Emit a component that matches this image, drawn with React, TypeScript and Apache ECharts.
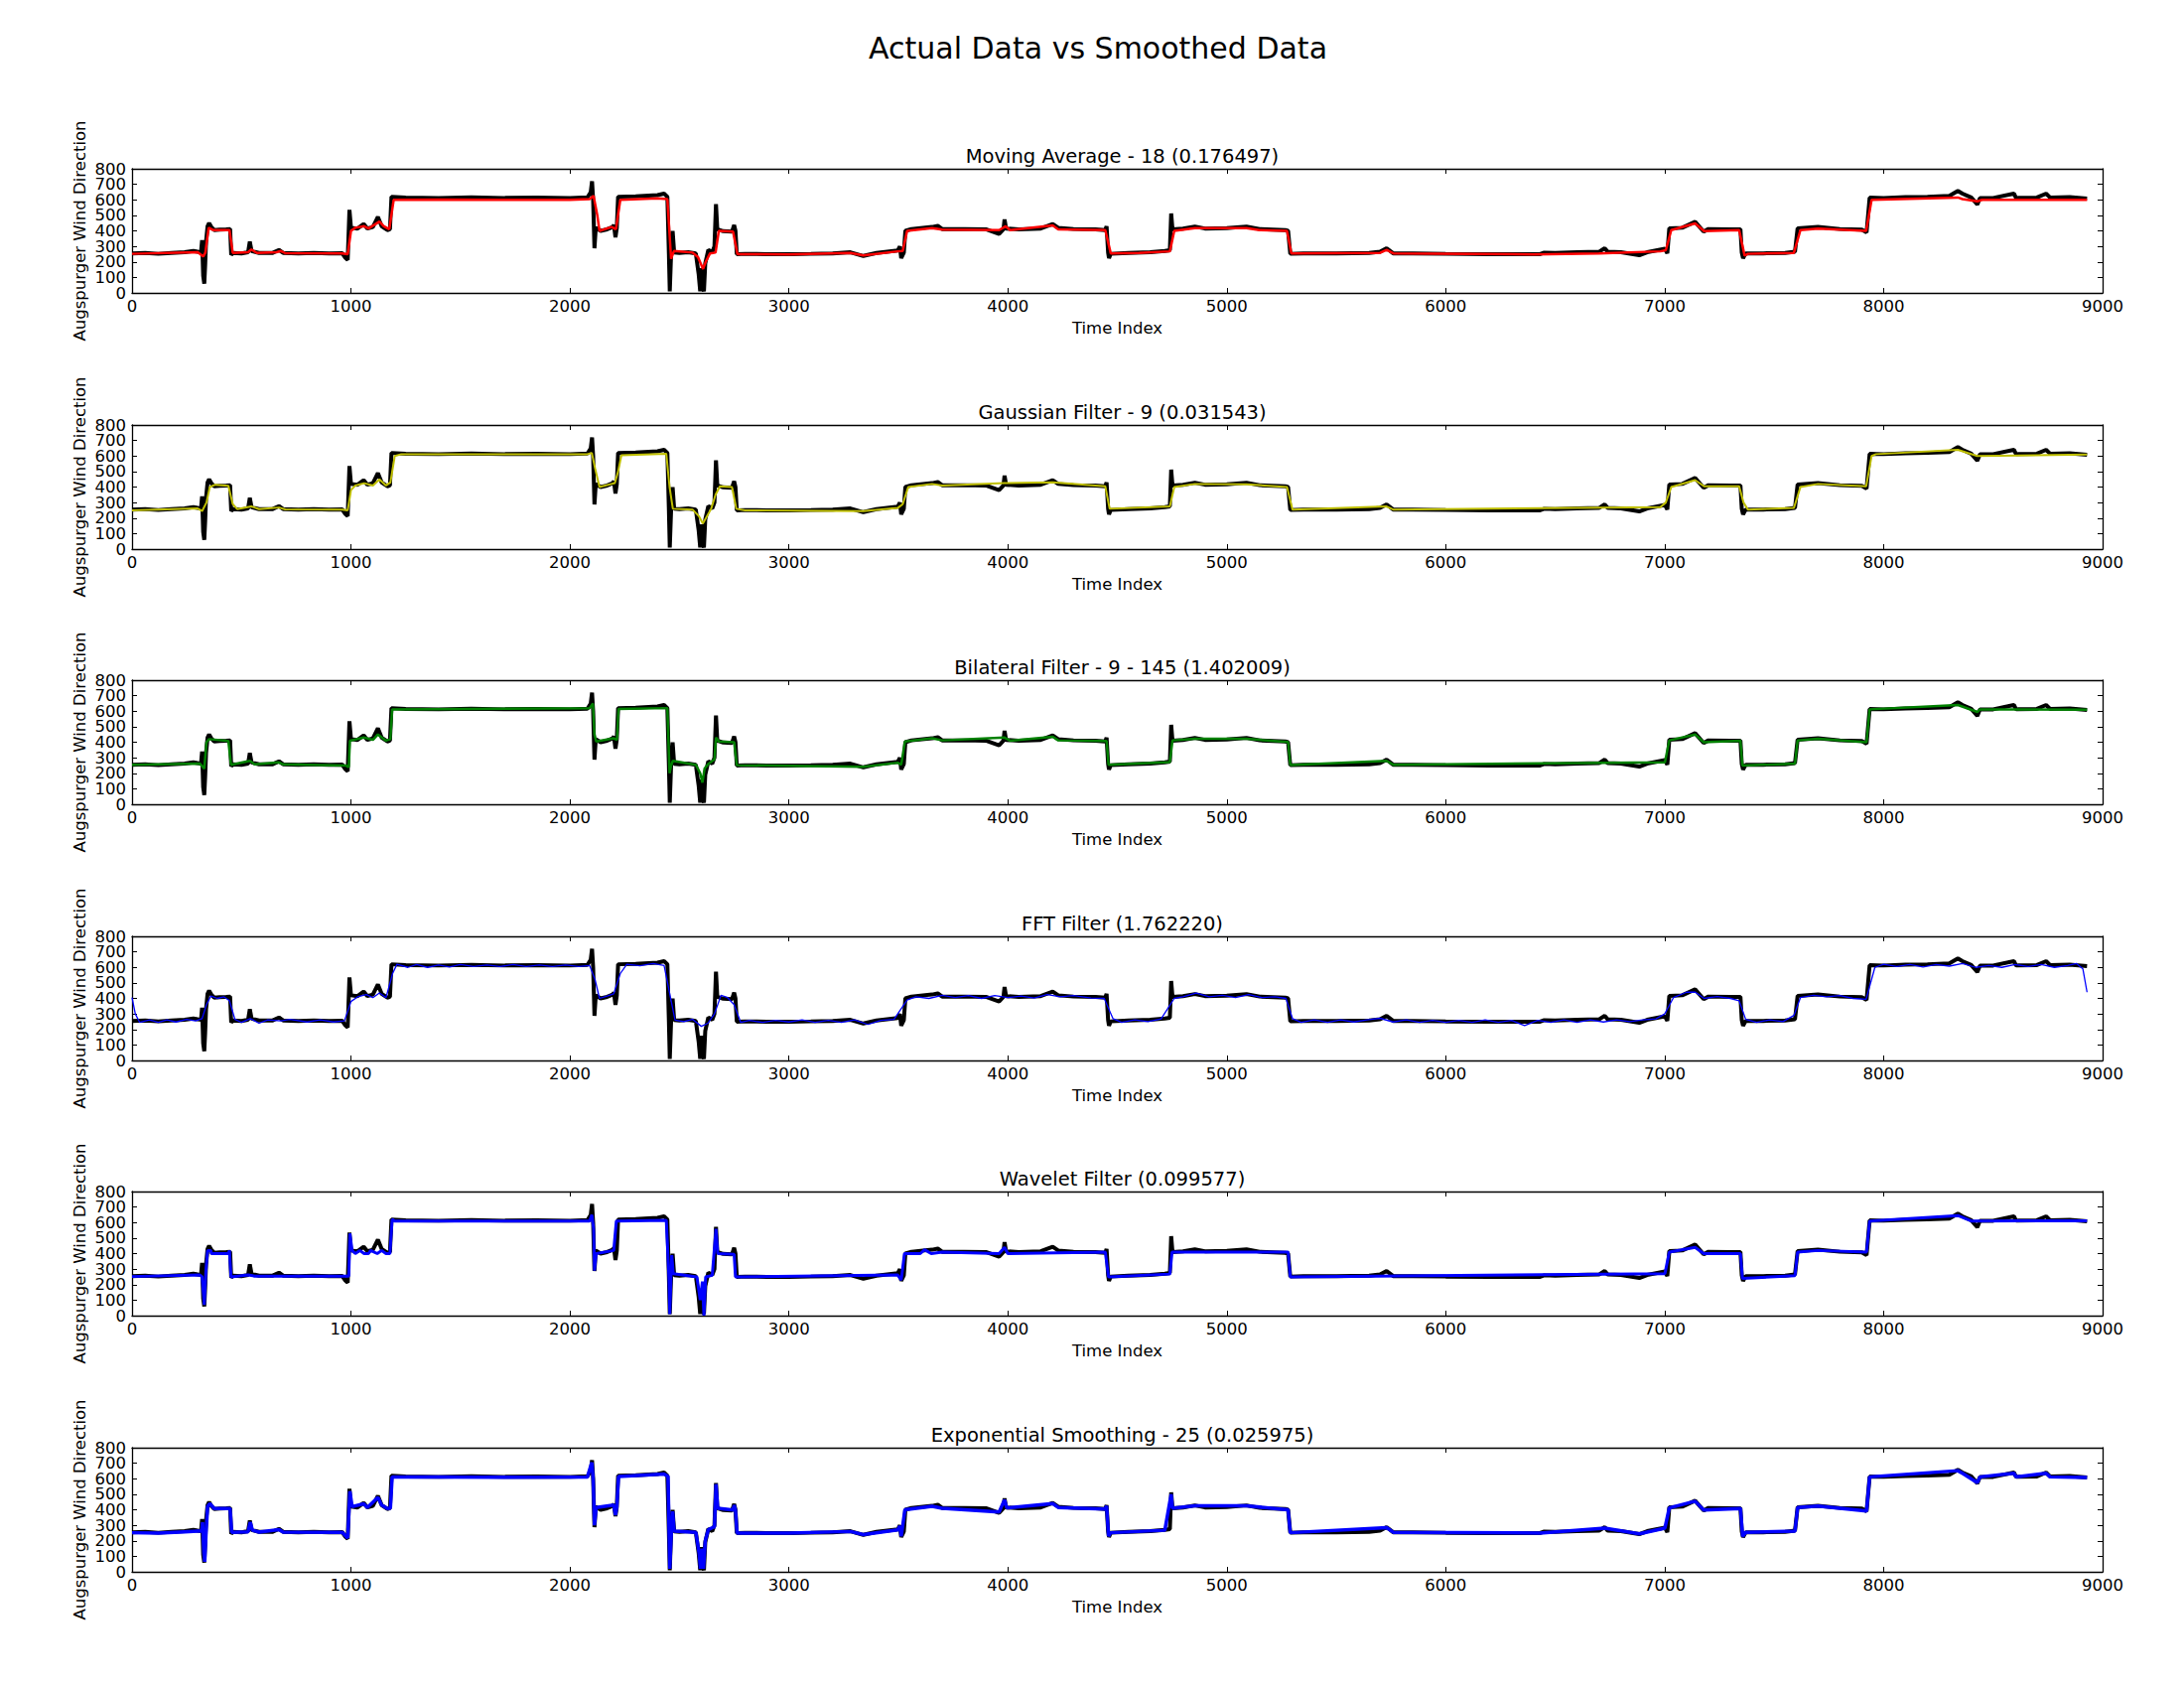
import React, { useEffect, useRef } from 'react';
import * as echarts from 'echarts';

// values as [time index, wind direction]
const actualData: [number, number][] = [
  [0, 255], [60, 258], [120, 252], [180, 258], [240, 262], [280, 270], [300, 265], [315, 262],
  [320, 340], [325, 110], [330, 60], [334, 180], [338, 330], [345, 430], [352, 450], [362, 425],
  [375, 405], [400, 408], [430, 410], [448, 412], [453, 245], [462, 258], [500, 255], [530, 262],
  [538, 330], [546, 270], [580, 258], [640, 257], [671, 277], [690, 258], [760, 255], [830, 257],
  [900, 254], [960, 256], [975, 225], [985, 213], [993, 535], [1000, 420], [1030, 415], [1058, 444],
  [1075, 415], [1100, 425], [1123, 490], [1140, 430], [1166, 405], [1178, 410], [1185, 620], [1250, 615],
  [1400, 612], [1550, 616], [1700, 612], [1850, 615], [2000, 612], [2080, 616], [2095, 650], [2101, 720],
  [2106, 600], [2112, 288], [2118, 420], [2140, 400], [2170, 410], [2195, 425], [2201, 437], [2208, 358],
  [2214, 420], [2220, 620], [2300, 622], [2400, 630], [2430, 640], [2445, 620], [2452, 250], [2456, 10],
  [2462, 250], [2469, 399], [2476, 260], [2500, 258], [2540, 262], [2575, 255], [2588, 120], [2595, 10],
  [2602, 160], [2607, 40], [2612, 10], [2618, 190], [2632, 277], [2650, 262], [2660, 300], [2667, 572],
  [2673, 410], [2700, 398], [2740, 395], [2750, 437], [2756, 400], [2762, 250], [2800, 252], [2900, 250],
  [3000, 250], [3100, 252], [3200, 255], [3281, 262], [3340, 238], [3400, 258], [3497, 273], [3507, 300],
  [3513, 224], [3525, 260], [3532, 400], [3560, 412], [3654, 425], [3680, 432], [3700, 412], [3800, 412],
  [3900, 410], [3960, 380], [3980, 410], [3985, 473], [3992, 415], [4050, 410], [4150, 415], [4205, 444],
  [4230, 420], [4300, 412], [4400, 410], [4445, 405], [4451, 430], [4458, 260], [4462, 224], [4470, 252],
  [4550, 258], [4650, 262], [4717, 270], [4740, 275], [4746, 512], [4752, 410], [4800, 415], [4854, 428],
  [4900, 415], [5000, 418], [5090, 428], [5150, 412], [5267, 405], [5280, 400], [5290, 252], [5350, 255],
  [5500, 255], [5650, 258], [5700, 265], [5730, 288], [5760, 255], [5850, 255], [6000, 252], [6200, 250],
  [6431, 250], [6450, 260], [6500, 258], [6600, 262], [6700, 265], [6726, 288], [6740, 265], [6800, 262],
  [6884, 243], [6920, 262], [7001, 285], [7012, 255], [7021, 416], [7080, 420], [7139, 458], [7178, 395],
  [7200, 412], [7300, 410], [7346, 410], [7352, 260], [7358, 224], [7370, 255], [7450, 255], [7550, 258],
  [7595, 265], [7607, 416], [7700, 425], [7800, 412], [7900, 408], [7922, 390], [7936, 614], [8000, 612],
  [8100, 618], [8200, 620], [8300, 625], [8339, 657], [8360, 640], [8400, 615], [8428, 570], [8440, 612],
  [8500, 612], [8595, 640], [8605, 612], [8700, 615], [8742, 640], [8760, 615], [8850, 618], [8929, 608],
];

const movingAvgData: [number, number][] = [
  [0, 252], [300, 262], [325, 235], [335, 260], [350, 420], [370, 405], [445, 405], [460, 258],
  [530, 262], [545, 280], [570, 258], [660, 262], [680, 270], [700, 256], [960, 255], [985, 250],
  [1000, 400], [1020, 420], [1060, 430], [1080, 415], [1130, 460], [1150, 430], [1175, 410], [1195, 600],
  [1400, 602], [1700, 600], [2000, 600], [2090, 605], [2108, 625], [2125, 500], [2135, 400], [2190, 425],
  [2210, 410], [2230, 600], [2400, 610], [2445, 605], [2462, 220], [2475, 270], [2560, 260], [2585, 230],
  [2608, 154], [2620, 200], [2640, 255], [2665, 260], [2680, 400], [2745, 395], [2765, 250], [3000, 248],
  [3281, 258], [3340, 242], [3497, 268], [3520, 270], [3540, 400], [3654, 418], [3700, 408], [3960, 405],
  [3990, 430], [4010, 405], [4205, 435], [4230, 410], [4445, 405], [4470, 255], [4600, 258], [4740, 268],
  [4760, 400], [4854, 418], [5090, 418], [5150, 405], [5275, 400], [5295, 255], [5700, 258], [5730, 278],
  [5760, 255], [6400, 248], [6700, 255], [6980, 268], [7005, 275], [7030, 405], [7139, 448], [7180, 398],
  [7340, 405], [7365, 240], [7380, 252], [7590, 258], [7620, 405], [7700, 415], [7920, 400], [7945, 600],
  [8339, 615], [8360, 605], [8428, 590], [8450, 600], [8929, 600],
];

const gaussianData: [number, number][] = [
  [0, 250], [300, 262], [320, 245], [340, 300], [355, 400], [380, 415], [440, 408], [460, 290],
  [480, 258], [545, 275], [580, 258], [671, 268], [700, 256], [960, 255], [985, 250], [1000, 380],
  [1020, 410], [1060, 425], [1100, 410], [1130, 450], [1160, 410], [1180, 430], [1200, 600], [1230, 612],
  [2080, 612], [2100, 620], [2115, 520], [2135, 400], [2190, 420], [2205, 425], [2220, 500], [2235, 605],
  [2440, 615], [2455, 400], [2470, 260], [2560, 255], [2590, 210], [2607, 165], [2625, 210], [2645, 260],
  [2665, 350], [2685, 405], [2740, 400], [2760, 260], [2800, 250], [3340, 245], [3497, 265], [3520, 290],
  [3545, 400], [3654, 420], [3700, 410], [3985, 425], [4205, 430], [4445, 405], [4465, 260], [4740, 275],
  [4760, 400], [4854, 420], [5090, 418], [5275, 400], [5300, 255], [5730, 275], [5760, 255], [6980, 270],
  [7005, 300], [7030, 400], [7139, 445], [7180, 405], [7340, 405], [7360, 300], [7380, 255], [7590, 265],
  [7620, 400], [7700, 420], [7920, 405], [7945, 600], [7965, 612], [8339, 640], [8428, 600], [8929, 610],
];

const bilateralData: [number, number][] = [
  [0, 255], [310, 262], [330, 230], [340, 400], [352, 420], [440, 408], [452, 255], [538, 280],
  [560, 258], [671, 270], [690, 257], [975, 250], [990, 240], [995, 410], [1058, 430], [1100, 415],
  [1123, 450], [1160, 410], [1180, 420], [1188, 612], [2090, 620], [2105, 650], [2112, 450], [2120, 405],
  [2200, 425], [2215, 415], [2222, 615], [2445, 620], [2455, 200], [2462, 250], [2470, 280], [2575, 255],
  [2595, 200], [2605, 140], [2615, 230], [2632, 260], [2660, 290], [2667, 430], [2680, 405], [2750, 400],
  [2762, 252], [3340, 242], [3497, 268], [3513, 255], [3530, 405], [3654, 425], [3700, 412], [3985, 430],
  [4010, 410], [4205, 435], [4230, 412], [4451, 408], [4460, 255], [4740, 272], [4752, 412], [4854, 422],
  [5090, 422], [5280, 402], [5290, 253], [5730, 280], [5760, 255], [7001, 270], [7021, 412], [7139, 450],
  [7178, 400], [7346, 410], [7355, 250], [7595, 262], [7607, 412], [7700, 422], [7922, 400], [7936, 612],
  [8339, 640], [8428, 595], [8440, 612], [8929, 610],
];

const fftData: [number, number][] = [
  [0, 405], [15, 300], [35, 245], [80, 262], [120, 245], [160, 262], [200, 248], [250, 265],
  [290, 255], [320, 270], [340, 360], [360, 415], [390, 400], [420, 410], [445, 385], [470, 265],
  [500, 245], [540, 270], [580, 240], [620, 262], [680, 255], [720, 265], [800, 248], [860, 262],
  [920, 248], [970, 255], [1000, 380], [1030, 410], [1070, 425], [1100, 405], [1130, 435], [1160, 405],
  [1190, 560], [1210, 620], [1260, 600], [1300, 618], [1350, 600], [1400, 615], [1450, 602], [1500, 618],
  [1560, 605], [1620, 615], [1680, 605], [1740, 618], [1800, 605], [1860, 615], [1920, 605], [1980, 615],
  [2040, 605], [2090, 612], [2115, 520], [2135, 400], [2170, 415], [2200, 430], [2230, 560], [2260, 620],
  [2320, 610], [2380, 625], [2430, 612], [2460, 400], [2480, 260], [2520, 250], [2560, 265], [2600, 220],
  [2630, 240], [2660, 300], [2690, 420], [2720, 405], [2750, 360], [2780, 245], [2820, 258], [2880, 245],
  [2940, 258], [3000, 248], [3060, 262], [3120, 245], [3180, 258], [3240, 245], [3300, 262], [3360, 232],
  [3420, 258], [3480, 265], [3540, 390], [3580, 410], [3640, 400], [3700, 420], [3760, 405], [3820, 418],
  [3880, 400], [3940, 418], [4000, 405], [4060, 415], [4120, 402], [4180, 425], [4240, 410], [4300, 418],
  [4380, 402], [4440, 400], [4480, 270], [4520, 245], [4580, 262], [4640, 250], [4700, 268], [4760, 400],
  [4800, 410], [4860, 435], [4920, 410], [4980, 420], [5040, 405], [5100, 425], [5160, 405], [5220, 410],
  [5270, 400], [5300, 270], [5340, 245], [5400, 262], [5460, 245], [5520, 262], [5580, 248], [5640, 262],
  [5700, 272], [5760, 248], [5820, 262], [5880, 245], [5940, 258], [6000, 245], [6060, 258], [6120, 245],
  [6180, 262], [6240, 245], [6300, 258], [6360, 225], [6420, 258], [6480, 245], [6540, 262], [6600, 245],
  [6660, 262], [6720, 248], [6780, 262], [6840, 250], [6900, 262], [6960, 268], [7000, 300], [7040, 405],
  [7100, 440], [7140, 440], [7180, 400], [7240, 412], [7300, 400], [7340, 385], [7370, 265], [7420, 245],
  [7480, 262], [7540, 250], [7590, 290], [7620, 405], [7680, 420], [7740, 410], [7800, 418], [7860, 400],
  [7920, 395], [7960, 600], [8000, 620], [8060, 605], [8120, 618], [8180, 602], [8240, 618], [8300, 608],
  [8360, 625], [8420, 600], [8480, 612], [8540, 600], [8600, 618], [8660, 605], [8720, 618], [8780, 600],
  [8840, 612], [8880, 625], [8910, 590], [8929, 440],
];

const waveletData: [number, number][] = [
  [0, 252], [310, 262], [320, 250], [330, 70], [338, 300], [345, 420], [360, 420], [362, 400],
  [440, 400], [445, 420], [452, 250], [530, 262], [560, 255], [960, 255], [990, 255], [995, 530],
  [1005, 420], [1020, 400], [1040, 420], [1060, 400], [1080, 400], [1090, 420], [1120, 400], [1140, 420],
  [1160, 400], [1178, 400], [1188, 620], [1200, 610], [2090, 610], [2100, 650], [2108, 560], [2112, 290],
  [2120, 400], [2200, 420], [2212, 610], [2440, 615], [2452, 250], [2456, 10], [2465, 390], [2472, 270],
  [2580, 250], [2595, 100], [2605, 220], [2612, 0], [2620, 250], [2650, 260], [2667, 560], [2675, 400],
  [2750, 395], [2756, 250], [3497, 262], [3513, 230], [3528, 400], [3600, 400], [3620, 425], [3650, 400],
  [3700, 410], [3960, 400], [3985, 440], [4000, 400], [4445, 410], [4460, 250], [4740, 268], [4750, 410],
  [5280, 410], [5290, 250], [7001, 270], [7021, 410], [7139, 440], [7178, 400], [7346, 400], [7355, 240],
  [7595, 258], [7607, 410], [7700, 420], [7922, 410], [7936, 610], [8339, 645], [8400, 610], [8929, 612],
];

const expSmoothData: [number, number][] = [
  [0, 252], [120, 250], [240, 258], [300, 262], [318, 262], [322, 320], [328, 120], [332, 65],
  [338, 250], [345, 420], [355, 440], [375, 408], [448, 408], [455, 255], [530, 258], [540, 320],
  [550, 268], [580, 256], [671, 272], [690, 256], [960, 254], [985, 218], [995, 520], [1005, 420],
  [1058, 438], [1075, 415], [1123, 480], [1140, 430], [1166, 408], [1180, 410], [1188, 612], [1400, 612],
  [1700, 610], [2080, 612], [2100, 705], [2106, 600], [2112, 300], [2120, 415], [2200, 430], [2208, 365],
  [2214, 420], [2222, 615], [2430, 630], [2448, 615], [2456, 20], [2463, 250], [2469, 390], [2476, 262],
  [2575, 255], [2590, 120], [2596, 20], [2604, 150], [2610, 20], [2618, 200], [2632, 272], [2660, 290],
  [2667, 565], [2675, 410], [2745, 398], [2750, 430], [2756, 400], [2763, 250], [3000, 250], [3281, 260],
  [3340, 240], [3497, 270], [3507, 295], [3513, 228], [3530, 400], [3654, 422], [3700, 410], [3960, 385],
  [3985, 465], [3995, 412], [4205, 440], [4230, 415], [4445, 405], [4451, 425], [4460, 230], [4470, 252],
  [4717, 268], [4746, 500], [4752, 410], [4854, 425], [5090, 425], [5280, 400], [5290, 252], [5730, 285],
  [5760, 255], [6431, 250], [6726, 282], [6884, 245], [7001, 282], [7021, 412], [7139, 455], [7178, 398],
  [7346, 408], [7356, 228], [7370, 255], [7595, 262], [7607, 414], [7700, 424], [7922, 392], [7936, 612],
  [8339, 652], [8360, 635], [8428, 575], [8440, 612], [8595, 635], [8605, 612], [8742, 635], [8760, 612],
  [8929, 608],
];

const yTickLabels = ['0', '100', '200', '300', '400', '500', '600', '700', '800'];

const panelTitles = [
  'Moving Average - 18 (0.176497)',
  'Gaussian Filter - 9 (0.031543)',
  'Bilateral Filter - 9 - 145 (1.402009)',
  'FFT Filter (1.762220)',
  'Wavelet Filter (0.099577)',
  'Exponential Smoothing - 25 (0.025975)',
];
const smoothedSeries = [movingAvgData, gaussianData, bilateralData, fftData, waveletData, expSmoothData];
const smoothColors = ['#ff0000', '#bfbf00', '#008000', '#0000ff', '#0000ff', '#0000ff'];
const smoothWidths = [2.5, 2, 2.5, 1.3, 3, 3.5];

const FONT = 'DejaVu Sans';
const GRID_LEFT = 133;
const GRID_WIDTH = 1985;
const GRID_HEIGHT = 125;
const GRID_TOPS = [170, 428, 685, 943, 1200, 1458];

const SmoothingChart = () => {
  const chartRef = useRef<HTMLDivElement>(null);

  useEffect(() => {
    document.body.style.margin = '0';
    let chart: echarts.ECharts | null = null;
    if (chartRef.current) {
      chart = echarts.init(chartRef.current, null, { renderer: 'svg' });

      const tick = { show: true, inside: true, length: 5, lineStyle: { color: '#000', width: 1 } };
      const line = { show: true, onZero: false, lineStyle: { color: '#000', width: 1.3 } };
      const label = { color: '#000', fontSize: 16.5, fontFamily: FONT };
      const plain = (v: number) => String(v);

      const grids: any[] = [];
      const xAxes: any[] = [];
      const yAxes: any[] = [];
      const series: any[] = [];
      const titles: any[] = [
        {
          text: 'Actual Data vs Smoothed Data',
          left: 1101,
          top: 28,
          textAlign: 'center',
          textStyle: { fontSize: 30, fontWeight: 'normal', color: '#000', fontFamily: FONT },
        },
      ];

      GRID_TOPS.forEach((top, i) => {
        grids.push({ left: GRID_LEFT, top, width: GRID_WIDTH, height: GRID_HEIGHT, containLabel: false });
        titles.push({
          text: panelTitles[i],
          left: GRID_LEFT + GRID_WIDTH / 2,
          top: top - 28,
          textAlign: 'center',
          textStyle: { fontSize: 19.5, fontWeight: 'normal', color: '#000', fontFamily: FONT },
        });
        xAxes.push({
          type: 'value', gridIndex: i, position: 'bottom', min: 0, max: 9000, interval: 1000,
          axisLine: line, axisTick: tick, splitLine: { show: false },
          axisLabel: { ...label, margin: 5, formatter: plain, showMinLabel: true, showMaxLabel: true },
          name: 'Time Index', nameLocation: 'middle', nameGap: 27,
          nameTextStyle: { ...label },
        });
        xAxes.push({
          type: 'value', gridIndex: i, position: 'top', min: 0, max: 9000, interval: 1000,
          axisLine: line, axisTick: tick, splitLine: { show: false }, axisLabel: { show: false },
        });
        // value axis carrying the data, ticks and the rotated name
        yAxes.push({
          type: 'value', gridIndex: i, position: 'left', min: 0, max: 800, interval: 100,
          axisLine: line, axisTick: tick, splitLine: { show: false }, axisLabel: { show: false },
          name: 'Augspurger Wind Direction', nameLocation: 'middle', nameGap: 44, nameRotate: 90,
          nameTextStyle: { ...label },
        });
        yAxes.push({
          type: 'value', gridIndex: i, position: 'right', min: 0, max: 800, interval: 100,
          axisLine: line, axisTick: tick, splitLine: { show: false }, axisLabel: { show: false },
        });
        // label-only axis so every tick label 0..800 stays visible
        yAxes.push({
          type: 'category', gridIndex: i, position: 'left', data: yTickLabels, boundaryGap: false,
          axisLine: { show: false }, axisTick: { show: false }, splitLine: { show: false },
          axisLabel: { ...label, margin: 6, interval: 0 },
        });
        series.push({
          type: 'line', xAxisIndex: 2 * i, yAxisIndex: 3 * i, data: actualData,
          showSymbol: false, lineStyle: { color: '#000', width: 4 }, z: 2,
        });
        series.push({
          type: 'line', xAxisIndex: 2 * i, yAxisIndex: 3 * i, data: smoothedSeries[i],
          showSymbol: false, lineStyle: { color: smoothColors[i], width: smoothWidths[i] }, z: 3,
        });
      });

      chart.setOption({
        animation: false,
        backgroundColor: '#fff',
        title: titles,
        grid: grids,
        xAxis: xAxes,
        yAxis: yAxes,
        series,
      });
    }

    return () => {
      chart?.dispose();
    };
  }, []);

  return <div ref={chartRef} style={{ width: '2200px', height: '1700px' }} />;
};

export default function App() {
  return <SmoothingChart />;
}
